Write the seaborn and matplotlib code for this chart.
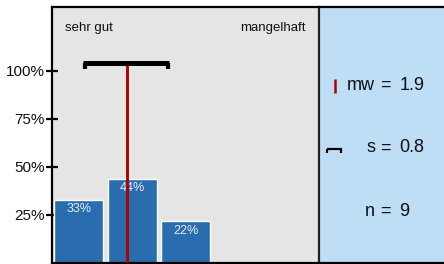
import matplotlib
matplotlib.use("Agg")
import matplotlib.pyplot as plt
import seaborn as sns
import pandas as pd

# ---- data ----
categories = ["sehr gut", "gut", "befriedigend", "ausreichend", "mangelhaft"]
shares = [0.33, 0.44, 0.22, 0.0, 0.0]
bar_labels = ["33%", "44%", "22%", "", ""]
y_ticks = [0.25, 0.50, 0.75, 1.00]
y_tick_labels = ["25%", "50%", "75%", "100%"]
mean_grade = 1.9
std_grade = 0.8
n_count = 9
stat_names = ["mw", "s", "n"]
stat_values = ["1.9", "0.8", "9"]

sns.set_theme(style="white")
plt.rcParams["font.family"] = ["Liberation Sans", "DejaVu Sans"]

W, H = 444, 264
fig = plt.figure(figsize=(W / 100, H / 100), dpi=100)

def fx(px):
    return px / W

def fy(py):
    return 1 - py / H

top_px, bot_px = 7, 263
left_px, div_px = 52, 319

ax = fig.add_axes([fx(left_px), fy(bot_px), fx(div_px) - fx(left_px), fy(top_px) - fy(bot_px)])
ax.set_facecolor("#E5E5E5")
ax.set_zorder(3)

df = pd.DataFrame({"cat": categories, "share": shares})
sns.barplot(data=df, x="cat", y="share", order=categories, color="#2A6DAE",
            saturation=1, width=0.92, ax=ax)
ax.set_xlim(-0.5, 4.5)
ax.set_ylim(0, 256 / 192)

for i, (v, lab) in enumerate(zip(shares, bar_labels)):
    if lab:
        ax.text(i, v - 0.02, lab, ha="center", va="top", color="#E6EEF7", fontsize=9)

# mean and std bar
xm = mean_grade - 1
ybar = 1.04
ax.plot([xm, xm], [0, ybar], color="#B00000", lw=2.1, solid_capstyle="butt", zorder=5)
ax.plot([xm - std_grade - 0.02, xm + std_grade], [ybar, ybar], color="black", lw=3.6,
        solid_capstyle="butt", zorder=6)
for xe, d in [(xm - std_grade - 0.02, 1), (xm + std_grade, -1)]:
    ax.plot([xe + d * 0.035, xe + d * 0.035], [1.01, ybar], color="black", lw=3,
            solid_capstyle="butt", zorder=6)

ax.text(0.05, 0.918, categories[0], transform=ax.transAxes, ha="left", va="center",
        fontsize=9.5, color="#111111")
ax.text(0.95, 0.918, categories[-1], transform=ax.transAxes, ha="right", va="center",
        fontsize=9.5, color="#111111")

ax.set_yticks(y_ticks)
ax.set_yticklabels(y_tick_labels, fontsize=11, color="#111111")
ax.set_xticks([])
ax.set_xlabel("")
ax.set_ylabel("")
ax.tick_params(axis="y", direction="inout", length=8, width=1.6, color="black", pad=1, left=True)
for sp in ["left", "top", "bottom", "right"]:
    ax.spines[sp].set_color("black")
    ax.spines[sp].set_linewidth(1.6)
ax.spines["right"].set_color("#222222")

# right panel
ax2 = fig.add_axes([fx(div_px), fy(bot_px), 1 - fx(div_px), fy(top_px) - fy(bot_px)])
ax2.set_facecolor("#BEDEF5")
ax2.set_zorder(1)
ax2.set_xlim(div_px, W)
ax2.set_ylim(bot_px, top_px)
ax2.set_xticks([])
ax2.set_yticks([])
ax2.spines["left"].set_visible(False)
ax2.spines["right"].set_visible(False)
ax2.spines["top"].set_color("black")
ax2.spines["top"].set_linewidth(1.6)
ax2.spines["bottom"].set_color("black")
ax2.spines["bottom"].set_linewidth(1.6)

# legend icons
ax2.plot([335, 335], [79, 93], color="#B00000", lw=1.8, solid_capstyle="butt")
ax2.plot([326.5, 341.5], [149, 149], color="black", lw=1.6, solid_capstyle="butt")
for xe in [327.3, 340.7]:
    ax2.plot([xe, xe], [148.5, 152.5], color="black", lw=1.6, solid_capstyle="butt")

rows_y = [85, 148, 211]
for yv, nm, val in zip(rows_y, stat_names, stat_values):
    ax2.text(375, yv, nm, ha="right", va="center", fontsize=13, color="#111111")
    ax2.text(385, yv, "=", ha="center", va="center", fontsize=13, color="#111111")
    ax2.text(399.5, yv, val, ha="left", va="center", fontsize=13, color="#111111")

fig.savefig("out.png", dpi=100)
